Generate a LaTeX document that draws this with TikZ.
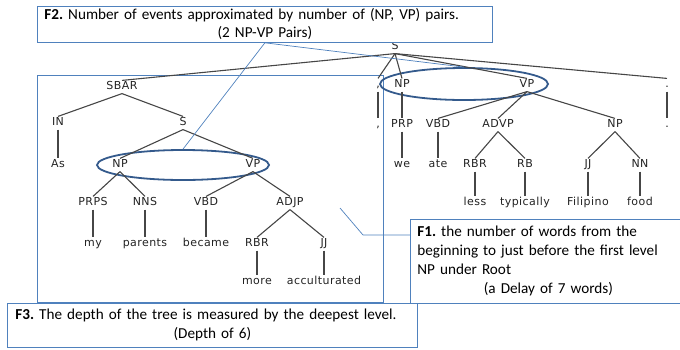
\documentclass[tikz,border=0pt]{standalone}
\usepackage{fontspec}
\setmainfont{Carlito}
\newfontfamily\treefont{DejaVu Sans}[LetterSpace=4]
\usetikzlibrary{shapes.geometric}
\definecolor{boxblue}{RGB}{79,129,189}
\definecolor{ellblue}{RGB}{52,90,140}
\definecolor{treegray}{RGB}{70,70,70}
\definecolor{treetext}{RGB}{35,35,35}
\frenchspacing
\begin{document}
\begin{tikzpicture}[x=1pt,y=-1pt,
  tn/.style={font=\treefont\fontsize{11}{12}\selectfont, text height=7.8pt, text depth=2pt, inner sep=1.5pt, anchor=center, text=treetext},
  te/.style={draw=treegray, line width=1.1pt},
  fbox/.style={draw=boxblue, line width=0.8pt, fill=white, anchor=north west, inner ysep=0pt},
  ell/.style={ellipse, draw=ellblue, line width=1.8pt, inner sep=0pt},
  link/.style={draw=boxblue, line width=0.7pt},
]
\useasboundingbox (0,0) rectangle (680,349);

% left frame
\node[draw=boxblue, line width=0.8pt, anchor=north west, minimum width=346pt, minimum height=227pt, inner sep=0pt] (lbox) at (37,75) {};

% ellipses
\node[ell, minimum width=172pt, minimum height=30pt] (ell1) at (183,165) {};
\node[ell, minimum width=168pt, minimum height=32pt] (ell2) at (464,84) {};

% tree nodes: root
\node[tn] (S0) at (395,47) {S};
% left subtree
\node[tn] (sbar) at (122,87) {SBAR};
\node[tn] (in) at (58,123) {IN};
\node[tn] (s1) at (183,123) {S};
\node[tn] (as) at (58,165) {As};
\node[tn] (np1) at (120,165) {NP};
\node[tn] (vp1) at (253,165) {VP};
\node[tn] (prps) at (93,203) {PRPS};
\node[tn] (nns) at (145,203) {NNS};
\node[tn] (vbd1) at (206,203) {VBD};
\node[tn] (adjp) at (290,203) {ADJP};
\node[tn] (my) at (93,244) {my};
\node[tn] (parents) at (145,244) {parents};
\node[tn] (became) at (206,244) {became};
\node[tn] (rbr1) at (257,244) {RBR};
\node[tn] (jj1) at (324,244) {JJ};
\node[tn] (more) at (257,282) {more};
\node[tn] (accult) at (324,282) {acculturated};
% right subtree
\node[tn] (comma) at (378,85) {,};
\node[tn] (commaw) at (378,125) {,};
\node[tn] (np2) at (402,85) {NP};
\node[tn] (vp2) at (527,85) {VP};
\node[tn] (prp) at (402,125) {PRP};
\node[tn] (vbd2) at (438,125) {VBD};
\node[tn] (advp) at (498,125) {ADVP};
\node[tn] (np3) at (615,125) {NP};
\node[tn] (we) at (402,165) {we};
\node[tn] (ate) at (438,165) {ate};
\node[tn] (rbr2) at (475,165) {RBR};
\node[tn] (rb) at (525,165) {RB};
\node[tn] (jj2) at (588,165) {JJ};
\node[tn] (nn) at (640,165) {NN};
\node[tn] (less) at (475,203) {less};
\node[tn] (typically) at (525,203) {typically};
\node[tn] (filipino) at (588,203) {Filipino};
\node[tn] (food) at (640,203) {food};
\node[tn] (period) at (667,85) {.};
\node[tn] (periodw) at (667,125) {.};

% tree edges
\foreach \a/\b in {S0/sbar,S0/comma,S0/np2,S0/vp2,S0/period,
  sbar/in,sbar/s1,in/as,s1/np1,s1/vp1,np1/prps,np1/nns,vp1/vbd1,vp1/adjp,
  prps/my,nns/parents,vbd1/became,adjp/rbr1,adjp/jj1,rbr1/more,jj1/accult,
  comma/commaw,np2/prp,vp2/vbd2,vp2/advp,vp2/np3,prp/we,vbd2/ate,
  advp/rbr2,advp/rb,np3/jj2,np3/nn,rbr2/less,rb/typically,jj2/filipino,nn/food,
  period/periodw}
  \draw[te] (\a.south) -- (\b.north);

% F2 box
\node[fbox, minimum height=36pt, text width=441pt, inner xsep=7pt, align=left,
  font=\fontsize{15.2}{18}\selectfont] (f2) at (37,6)
  {\textbf{F2.} Number of events approximated by number of (NP, VP) pairs.\\\makebox[\hsize]{(2 NP-VP Pairs)}};
\draw[link] (f2.south) -- (ell1.north);
\draw[link] (f2.south) -- (ell2.north);

% F3 box
\node[fbox, minimum height=44pt, text width=394pt, inner xsep=8pt, align=left,
  font=\fontsize{15.2}{19}\selectfont] (f3) at (7,303)
  {\textbf{F3.} The depth of the tree is measured by the deepest level.\\\makebox[\hsize]{(Depth of 6)}};

% F1 box
\node[fbox, minimum height=84pt, text width=262pt, inner xsep=7pt, align=left,
  font=\fontsize{15.2}{19}\selectfont] (f1) at (410,219)
  {\textbf{F1.} the number of words from the\\ beginning to just before the first level\\ NP under Root\\\makebox[\hsize]{(a Delay of 7 words)}};
\coordinate (f1bend) at (363,235);
\coordinate (f1end) at (340,208);
\draw[link] ([yshift=-16pt]f1.north west) -- (f1bend) -- (f1end);
\end{tikzpicture}
\end{document}
